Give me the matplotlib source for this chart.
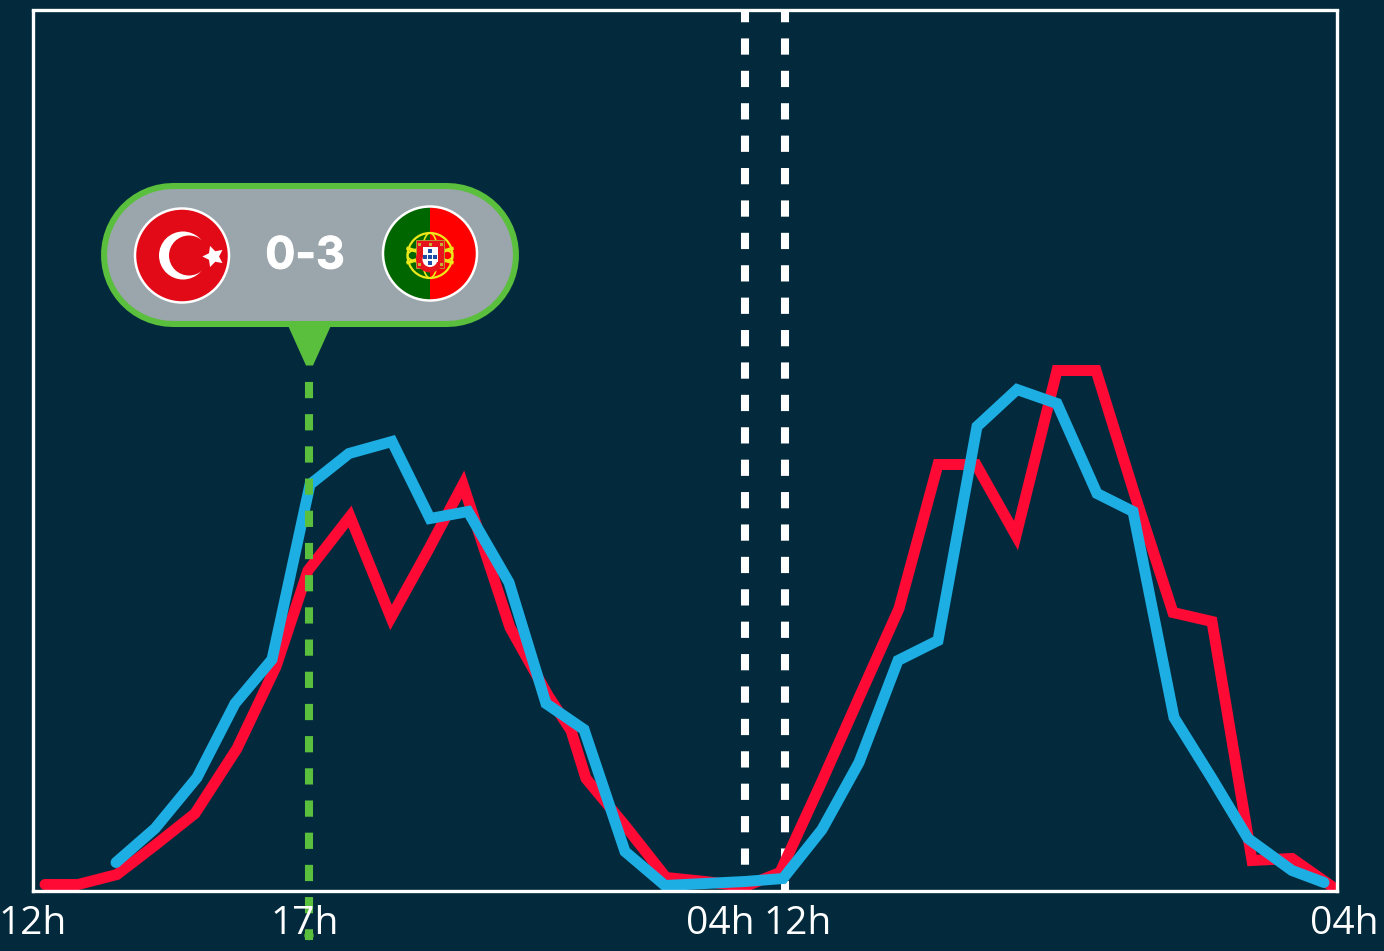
import matplotlib
matplotlib.use("Agg")
import matplotlib.pyplot as plt
import matplotlib.patheffects as pe
from matplotlib.patches import Circle, Ellipse, Polygon, Rectangle, Wedge

plt.rcParams['font.family'] = ['Open Sans', 'DejaVu Sans']
plt.rcParams['lines.scale_dashes'] = False

W, H = 1384, 951
BG = '#022A3C'
RED = '#FF0A35'
BLUE = '#1DAEE4'
GREEN = '#5ABF3C'

# one data unit is one pixel, x from the left of the frame, y up from the bottom
turkey_x = [12, 45, 84, 123, 162, 204, 243, 275, 317, 358, 395, 430, 477, 515, 538, 553, 592, 633, 672, 712, 747, 787, 827, 866, 905, 943, 983, 1024, 1063, 1102, 1140, 1179, 1219, 1259, 1299]
turkey_y = [6, 6, 16, 46, 77, 142, 224, 320, 374, 273, 340, 406, 263, 195, 160, 112, 65, 13, 9, 4, 18, 105, 195, 282, 426, 426, 355, 520, 520, 395, 278, 269, 30, 32, 4]
portugal_x = [83, 122, 164, 202, 239, 277, 316, 359, 397, 435, 476, 513, 551, 592, 632, 672, 712, 750, 789, 826, 865, 905, 944, 984, 1024, 1064, 1100, 1141, 1179, 1215, 1259, 1291]
portugal_y = [28, 62, 113, 187, 231, 406, 437, 449, 372, 379, 308, 187, 161, 39, 5, 7, 9, 12, 61, 128, 230, 250, 464, 501, 487, 397, 379, 173, 112, 52, 20, 8]

match_x = 276
break_x = [712, 752]
tick_pos = [0, 272, 687, 765, 1311]
tick_labels = ['12h', '17h', '04h', '12h', '04h']
score = '0-3'

fig = plt.figure(figsize=(W / 100, H / 100), dpi=100, facecolor=BG)
ax = fig.add_axes([33 / W, 1 - 890.5 / H, 1304 / W, 880 / H], facecolor=BG)
for s in ax.spines.values():
    s.set_color('white')
    s.set_linewidth(2.4)
    s.set_zorder(6)
ax.set_xticks([])
ax.set_yticks([])

# dashed markers
for x in break_x:
    ax.plot([x, x], [880, 0], color='white', lw=5.8, ls=(3.6, (11.7, 11.63)), dash_capstyle='butt', zorder=2)

ax.plot(turkey_x, turkey_y, color=RED, lw=7.9, solid_capstyle='round', solid_joinstyle='miter', zorder=3)
ax.plot(portugal_x, portugal_y, color=BLUE, lw=7.9, solid_capstyle='round', solid_joinstyle='miter', zorder=4)

# green one sits over the lines, under the tick labels
ax.plot([match_x, match_x], [525, -49], color=GREEN, lw=5.8, ls=(11.7, (11.7, 11.48)), dash_capstyle='butt', clip_on=False, zorder=4.5)
ax.add_patch(Circle((match_x, -45), 4, color=GREEN, clip_on=False, zorder=4.5))

for pos, lab in zip(tick_pos, tick_labels):
    ax.text(pos, -33, lab, color='white', fontsize=28, ha='center', va='center', zorder=5)

# score bubble, two thick round-capped lines
ax.plot([140, 414], [636, 636], color=GREEN, lw=103.7, solid_capstyle='round', zorder=7)
ax.plot([140, 414], [636, 636], color='#9AA6AC', lw=95, solid_capstyle='round', zorder=7)
ax.add_patch(Polygon([(255, 565), (298, 565), (280, 525), (273, 525)], fc=GREEN, ec='none', zorder=7))
t = ax.text(272, 634, score, color='white', fontsize=32, fontweight='bold', family=['Inter', 'DejaVu Sans'], ha='center', va='center', zorder=8)
t.set_path_effects([pe.withStroke(linewidth=0.7, foreground='white')])

# turkey flag
ax.add_patch(Circle((149, 635), 47, fc='#E30A17', ec='white', lw=1.8, zorder=8))
ax.add_patch(Circle((150, 635), 24, fc='white', ec='none', zorder=9))
ax.add_patch(Circle((156, 635), 20, fc='#E30A17', ec='none', zorder=9))
ax.plot([180], [635], marker=(5, 1, 90), ms=16, color='white', mec='none', zorder=10)

# portugal flag
cx, cy = 397, 637
ax.add_patch(Wedge((cx, cy), 46.5, 90, 270, fc='#006600', ec='none', zorder=8))
ax.add_patch(Wedge((cx, cy), 46.5, -90, 90, fc='#FF0000', ec='none', zorder=8))
ax.add_patch(Circle((cx, cy), 47, fc='none', ec='white', lw=1.8, zorder=9))
cy = 635
ax.add_patch(Circle((cx, cy), 22.5, fc='none', ec='#EDE81A', lw=1.6, zorder=9))
ax.add_patch(Ellipse((cx, cy), 45, 16, fc='none', ec='#EDE81A', lw=1.2, zorder=9))
ax.add_patch(Ellipse((cx, cy), 16, 45, fc='none', ec='#EDE81A', lw=1.2, zorder=9))
ax.plot([cx - 22, cx + 22], [cy + 7, cy - 7], color='#EDE81A', lw=2.4, zorder=9)
ax.plot([cx - 22, cx + 22], [cy - 7, cy + 7], color='#EDE81A', lw=2.4, zorder=9)
ax.add_patch(Rectangle((cx - 14, cy - 12), 28, 28, fc='#E8141C', ec='#B9A53A', lw=0.6, zorder=10))
ax.add_patch(Circle((cx, cy - 3), 14, fc='#E8141C', ec='none', zorder=10))
ax.add_patch(Rectangle((cx - 7.5, cy - 6), 15, 15, fc='white', ec='none', zorder=11))
ax.add_patch(Circle((cx, cy - 4), 7.5, fc='white', ec='none', zorder=11))
for dx, dy in [(0, 5), (-5, -1), (0, -1), (5, -1), (0, -7)]:
    ax.add_patch(Rectangle((cx + dx - 1.8, cy + dy - 2), 3.6, 4, fc='#1F4EA8', ec='none', zorder=12))
for dx, dy in [(-11, 11), (0, 11), (11, 11), (-11, -9), (11, -9)]:
    ax.add_patch(Rectangle((cx + dx - 1.5, cy + dy - 1.5), 3, 3, fc='#C9B037', ec='none', zorder=12))

ax.set_xlim(0, 1304)
ax.set_ylim(0, 880)
fig.savefig('out.png', dpi=100, facecolor=BG)
